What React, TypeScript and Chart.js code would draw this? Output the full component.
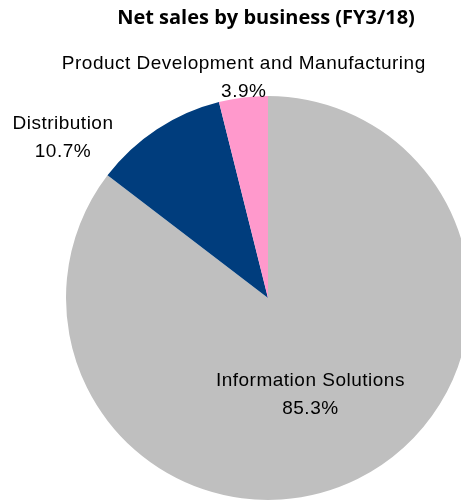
import React, { useEffect, useRef } from "react";
import { Chart, registerables } from "chart.js";

Chart.register(...registerables);

const categories = ["Information Solutions", "Distribution", "Product Development and Manufacturing"];
const shares = [85.3, 10.7, 3.9];
const shareLabels = ["85.3%", "10.7%", "3.9%"];
const colors = ["#BFBFBF", "#003D7D", "#FF99CC"];
const titleText = "Net sales by business (FY3/18)";
// label anchor offsets relative to pie centre, in units of radius
const labelOffsets: [number, number][] = [
  [0.21, 0.41],
  [-1.015, -0.865],
  [-0.12, -1.16],
];

const labelFont = "19px 'Liberation Sans', Arial, sans-serif";

const labelPlugin = {
  id: "sliceLabels",
  afterDraw(chart: any) {
    const ctx = chart.ctx;
    const meta = chart.getDatasetMeta(0);
    const arc0 = meta.data[0];
    if (!arc0) return;
    const cx = arc0.x;
    const cy = arc0.y;
    const r = arc0.outerRadius;
    ctx.save();
    ctx.fillStyle = "#000";
    ctx.textAlign = "center";
    ctx.textBaseline = "middle";
    ctx.font = labelFont;
    try { ctx.letterSpacing = "0.5px"; } catch (e) {}
    categories.forEach((c, i) => {
      const [ox, oy] = labelOffsets[i];
      const x = cx + ox * r;
      const y = cy + oy * r;
      ctx.fillText(c, x, y);
      ctx.fillText(shareLabels[i], x, y + 28);
    });
    try { ctx.letterSpacing = "0px"; } catch (e) {}
    ctx.font = "bold 20px 'Open Sans', sans-serif";
    ctx.fillText(titleText, cx - 2, 18);
    ctx.restore();
  },
};

export default function App() {
  const ref = useRef<HTMLCanvasElement | null>(null);
  useEffect(() => {
    document.body.style.overflow = "hidden";
    const chart = new Chart(ref.current as HTMLCanvasElement, {
      type: "pie",
      data: {
        labels: categories,
        datasets: [
          {
            data: shares,
            backgroundColor: colors,
            borderWidth: 0,
          },
        ],
      },
      options: {
        animation: false,
        responsive: false,
        layout: { padding: { left: 66, top: 96, right: 10, bottom: 10 } },
        plugins: {
          legend: { display: false },
          tooltip: { enabled: false },
          title: { display: false },
        },
      },
      plugins: [labelPlugin],
    });
    return () => chart.destroy();
  }, []);
  return (
    <div style={{ position: "fixed", left: 0, top: 0, width: 480, height: 510, overflow: "hidden", background: "#fff" }}>
      <canvas ref={ref} width={480} height={510} style={{ width: 480, height: 510 }} />
    </div>
  );
}
